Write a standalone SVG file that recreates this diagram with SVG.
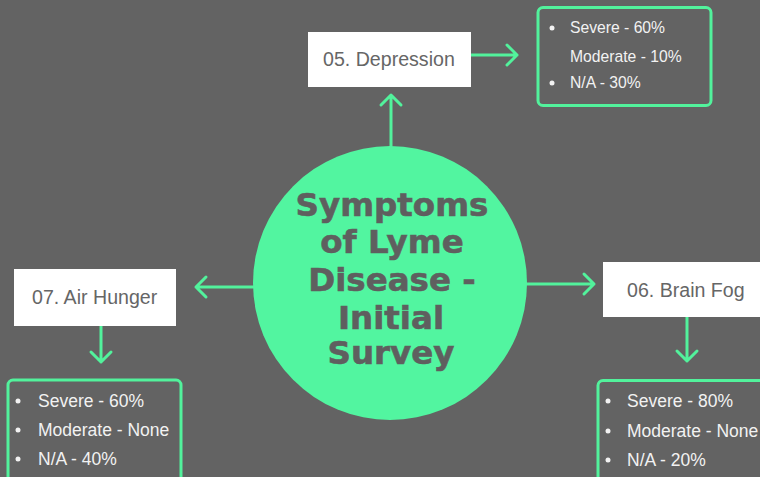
<svg xmlns="http://www.w3.org/2000/svg" width="760" height="477" viewBox="0 0 760 477">
<defs>
<style>
.bg{fill:#636363}
.label{fill:#ffffff}
.ltxt{font-family:"Liberation Sans",Arial,sans-serif;font-size:19.6px;fill:#666666}
.list{fill:none;stroke:#52F29C;stroke-width:3}
.ltext{font-family:"Liberation Sans",Arial,sans-serif;fill:#f2f2f2}
.bul{fill:#f2f2f2}
.conn{fill:none;stroke:#52F29C;stroke-width:3;stroke-linecap:round;stroke-linejoin:round}
.title{font-family:"DejaVu Sans",Verdana,sans-serif;font-weight:bold;font-size:32.5px;fill:#5f5f5f;text-anchor:middle;stroke:#5f5f5f;stroke-width:0.6}
</style>
</defs>
<rect class="bg" x="0" y="0" width="760" height="477"/>

<g id="connectors">
<path class="conn" d="M391 146 V95 M381 105 L391 95 L401 105"/>
<path class="conn" d="M471 55 H517 M507 45 L517 55 L507 65"/>
<path class="conn" d="M254 287 H196 M206 277 L196 287 L206 297"/>
<path class="conn" d="M101 326 V362 M91 352 L101 362 L111 352"/>
<path class="conn" d="M527 284 H594 M584 274 L594 284 L584 294"/>
<path class="conn" d="M687 317 V361 M677 351 L687 361 L697 351"/>
</g>

<g id="center">
<circle cx="390" cy="283" r="137" fill="#52F5A0"/>
<text class="title" x="392" y="216">Symptoms</text>
<text class="title" x="392" y="253">of Lyme</text>
<text class="title" x="392" y="291">Disease -</text>
<text class="title" x="391" y="329">Initial</text>
<text class="title" x="391" y="364">Survey</text>
</g>

<g id="depression">
<rect class="label" x="308" y="32" width="163" height="55"/>
<text class="ltxt" x="323" y="66">05. Depression</text>
</g>
<g id="depression-list">
<rect class="list" x="538" y="7.5" width="173" height="98" rx="5"/>
<circle class="bul" cx="552" cy="28" r="2.5"/>
<circle class="bul" cx="552" cy="83" r="2.5"/>
<text class="ltext" font-size="15.7" x="570" y="33">Severe - 60%</text>
<text class="ltext" font-size="15.7" x="570" y="62">Moderate - 10%</text>
<text class="ltext" font-size="15.7" x="570" y="88">N/A - 30%</text>
</g>

<g id="air-hunger">
<rect class="label" x="14" y="269" width="162" height="57"/>
<text class="ltxt" x="32" y="304">07. Air Hunger</text>
</g>
<g id="air-hunger-list">
<rect class="list" x="8" y="380" width="173" height="110" rx="5"/>
<circle class="bul" cx="18" cy="401" r="2.5"/>
<circle class="bul" cx="18" cy="430" r="2.5"/>
<circle class="bul" cx="18" cy="459" r="2.5"/>
<text class="ltext" font-size="17.5" x="38" y="407">Severe - 60%</text>
<text class="ltext" font-size="17.5" x="38" y="436">Moderate - None</text>
<text class="ltext" font-size="17.5" x="38" y="465">N/A - 40%</text>
</g>

<g id="brain-fog">
<rect class="label" x="603" y="262" width="170" height="55"/>
<text class="ltxt" x="627" y="297">06. Brain Fog</text>
</g>
<g id="brain-fog-list">
<rect class="list" x="598" y="380.5" width="180" height="110" rx="5"/>
<circle class="bul" cx="608" cy="401" r="2.5"/>
<circle class="bul" cx="608" cy="431" r="2.5"/>
<circle class="bul" cx="608" cy="460" r="2.5"/>
<text class="ltext" font-size="17.5" x="627" y="407">Severe - 80%</text>
<text class="ltext" font-size="17.5" x="627" y="437">Moderate - None</text>
<text class="ltext" font-size="17.5" x="627" y="466">N/A - 20%</text>
</g>
</svg>
